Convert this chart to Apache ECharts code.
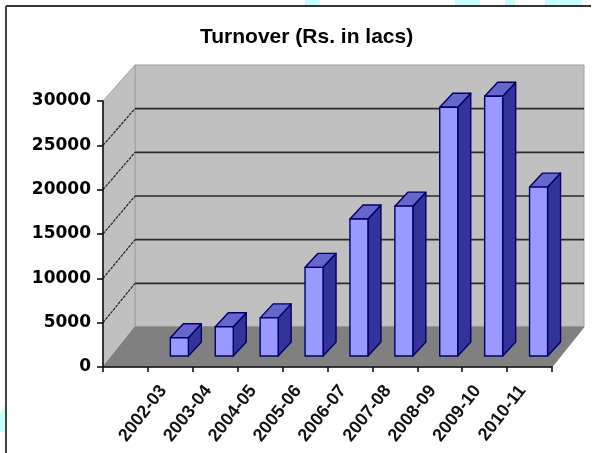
<!DOCTYPE html>
<html><head><meta charset="utf-8">
<style>html,body{margin:0;padding:0;background:#fff}#c{width:595px;height:453px;filter:blur(0.4px)}</style>
<script src="https://cdn.jsdelivr.net/npm/echarts@6/dist/echarts.min.js"></script>
</head><body><div id="c"></div>
<script>
var categories = ["", "2002-03", "2003-04", "2004-05", "2005-06", "2006-07", "2007-08", "2008-09", "2009-10", "2010-11"];
var turnover = [null, 2050, 3300, 4300, 10000, 15450, 16900, 28050, 29300, 19050];
var yTicks = [0, 5000, 10000, 15000, 20000, 25000, 30000];
var yMax = 30000;

var FONT = '"Liberation Sans", Arial, sans-serif';
var chart = echarts.init(document.getElementById('c'));

function wallOffset(v) { return [32, -40 + 4 * v / yMax]; }

function renderRoom(params, api) {
  var cs = params.coordSys;
  var L = cs.x, R = cs.x + cs.width;
  var y0 = api.coord([0, 0])[1], yT = api.coord([0, yMax])[1];
  var o0 = wallOffset(0), oT = wallOffset(yMax);
  var kids = [
    {type:'polygon', shape:{points:[[L+o0[0],y0+o0[1]],[R+o0[0],y0+o0[1]],[R+oT[0],yT+oT[1]],[L+oT[0],yT+oT[1]]]},
     style:{fill:'#c0c0c0', stroke:'#a0a0a0', lineWidth:1}},
    {type:'polygon', shape:{points:[[L,y0],[L+o0[0],y0+o0[1]],[L+oT[0],yT+oT[1]],[L,yT]]},
     style:{fill:'#c0c0c0', stroke:'#a0a0a0', lineWidth:1}},
    {type:'polygon', shape:{points:[[L,y0],[R,y0],[R+o0[0],y0+o0[1]],[L+o0[0],y0+o0[1]]]},
     style:{fill:'#808080', stroke:'#808080', lineWidth:1}}
  ];
  yTicks.forEach(function (v) {
    if (v === 0 || v === yMax) return;
    var y = api.coord([0, v])[1], o = wallOffset(v);
    kids.push({type:'line', shape:{x1:L, y1:y, x2:L+o[0], y2:y+o[1]}, style:{stroke:'#222', lineWidth:1.2, lineDash:[3,1]}});
    kids.push({type:'line', shape:{x1:L+o[0], y1:y+o[1], x2:R+o[0], y2:y+o[1]}, style:{stroke:'#2a2a2a', lineWidth:1.6}});
  });
  return {type:'group', children:kids};
}

var BAR_SHIFT = [9, -11], BAR_DEPTH = [13, -14], BAR_W = 18;
function renderBar(params, api) {
  var v = api.value(1);
  if (v == null || isNaN(v)) return;
  var idx = api.value(0);
  var base = api.coord([idx, 0]), top = api.coord([idx, v]);
  var x0 = base[0] + BAR_SHIFT[0] - BAR_W / 2, x1 = x0 + BAR_W;
  var yb = base[1] + BAR_SHIFT[1], yt = top[1] + BAR_SHIFT[1];
  var dx = BAR_DEPTH[0], dy = BAR_DEPTH[1];
  var line = {stroke:'#000066', lineWidth:1.4, lineJoin:'round'};
  return {type:'group', children:[
    {type:'polygon', shape:{points:[[x1,yb],[x1+dx,yb+dy],[x1+dx,yt+dy],[x1,yt]]}, style:Object.assign({fill:'#333399'}, line)},
    {type:'polygon', shape:{points:[[x0,yt],[x1,yt],[x1+dx,yt+dy],[x0+dx,yt+dy]]}, style:Object.assign({fill:'#6666cc'}, line)},
    {type:'polygon', shape:{points:[[x0,yb],[x1,yb],[x1,yt],[x0,yt]]}, style:Object.assign({fill:'#9999ff'}, line)}
  ]};
}

var cyan = '#c8ffff';
function deco(x, y, w, h) { return {type:'rect', silent:true, z:0, shape:{x:x,y:y,width:w,height:h}, style:{fill:cyan}}; }

chart.setOption({
  animation:false,
  backgroundColor:'#ffffff',
  title:{text:'Turnover (Rs. in lacs)', left:195, top:22,
    textStyle:{fontFamily:FONT, fontSize:21, fontWeight:'bold', color:'#000'}},
  grid:{left:103, right:43, top:101, bottom:86, containLabel:false},
  xAxis:{type:'category', data:categories, z:5,
    axisLine:{lineStyle:{color:'#111', width:1.6}},
    axisTick:{show:true, length:5, alignWithLabel:false, interval:0, lineStyle:{color:'#111', width:1.6}},
    axisLabel:{interval:0, rotate:52, margin:26, color:'#111', fontFamily:FONT, fontSize:18, fontWeight:'bold', verticalAlign:'bottom'},
    splitLine:{show:false}},
  yAxis:{type:'value', min:0, max:yMax, interval:5000, z:5,
    axisLine:{show:true, lineStyle:{color:'#111', width:1.6}},
    axisTick:{show:true, length:6, lineStyle:{color:'#111', width:1.6}},
    axisLabel:{margin:12, color:'#000', fontFamily:'"DejaVu Sans", sans-serif', fontSize:17, fontWeight:'bold', padding:[8,0,0,0],
      formatter:function (v) { return String(v); }},
    splitLine:{show:false}},
  graphic:[
    deco(305,0,15,5), deco(455,0,25,5), deco(505,0,10,5), deco(545,0,37,5),
    {type:'polygon', silent:true, z:0, shape:{points:[[5,405],[5,432],[0,432],[0,415]]}, style:{fill:cyan}},
    {type:'line', silent:true, z:10, shape:{x1:6,y1:6,x2:591,y2:6}, style:{stroke:'#333', lineWidth:2}},
    {type:'line', silent:true, z:10, shape:{x1:6,y1:6,x2:6,y2:453}, style:{stroke:'#444', lineWidth:2}}
  ],
  series:[
    {type:'custom', name:'room', coordinateSystem:'cartesian2d', z:1, silent:true, clip:false,
     renderItem:renderRoom, data:[[0,0]], encode:{x:0,y:1}},
    {type:'custom', name:'Turnover', coordinateSystem:'cartesian2d', z:2, clip:false,
     renderItem:renderBar, data:categories.map(function (c, i) { return [i, turnover[i]]; }), encode:{x:0,y:1}}
  ]
});
</script></body></html>
